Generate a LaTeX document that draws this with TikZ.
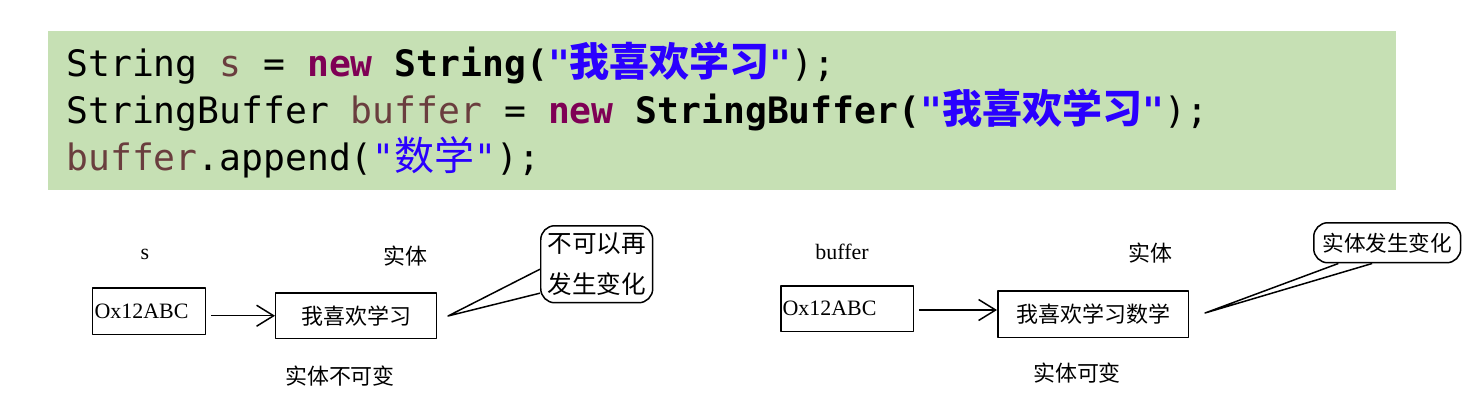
\documentclass[tikz,border=0pt]{standalone}
\usepackage{fontspec}
\setmainfont{Liberation Serif}
\setmonofont{DejaVu Sans Mono}
\newfontfamily\cjk{Noto Sans CJK SC}
\newfontfamily\cjkcode{Noto Sans CJK SC}[Scale=1.1]
\usetikzlibrary{arrows.meta}
\definecolor{codebg}{HTML}{C6E0B4}
\definecolor{kwcol}{HTML}{7F0055}
\definecolor{varcol}{HTML}{6A3E3E}
\definecolor{strcol}{HTML}{2A00FF}
\newcommand\dgfont{\fontsize{12.5}{15}\selectfont}
\newcommand\kw[1]{\textbf{\color{kwcol}#1}}
\newcommand\var[1]{{\color{varcol}#1}}
\tikzset{
  codeline/.style={anchor=base west, inner sep=0pt, font=\ttfamily\fontsize{20.7}{24}\selectfont},
  membox/.style={draw, line width=0.85pt, anchor=north west, inner sep=1pt, font=\dgfont},
  bubble/.style={draw, line width=0.85pt, rounded corners=8pt, anchor=north west, inner sep=1pt, align=center},
  lbl/.style={inner sep=0pt, font=\dgfont},
  ptr/.style={->, line width=0.85pt, shorten <=0.1cm},
  callout/.style={line width=0.85pt}
}
\begin{document}
\begin{tikzpicture}[x=0.02cm, y=-0.02cm, line join=round, >={Straight Barb[length=3.4mm,width=4.2mm]}]
\useasboundingbox (0,0) rectangle (1475,400);
% code block
\fill[codebg] (48,31) rectangle (1396,190);
\node[codeline] (line1) at (66,76) {String \var{s} = \kw{new} \textbf{String(}\textbf{\color{strcol}"{\cjkcode 我喜欢学习}"});};
\node[codeline] (line2) at (66,123) {StringBuffer \var{buffer} = \kw{new} \textbf{StringBuffer(}\textbf{\color{strcol}"{\cjkcode 我喜欢学习}"});};
\node[codeline] (line3) at (66,170) {\var{buffer}.append({\color{strcol}"{\cjkcode 数学}"});};
% String
\node[lbl] (sname) at (145,254) {s};
\node[lbl, font=\cjk\dgfont] (ent1) at (405,256) {实体};
\node[membox, minimum width=2.26cm, minimum height=0.94cm, text width=2.26cm-2pt, align=left] (b1) at (92,287) {Ox12ABC};
\node[membox, minimum width=3.22cm, minimum height=0.92cm, font=\cjk\dgfont] (b2) at (275,292) {我喜欢学习};
\node[lbl, font=\cjk\dgfont] (fixed) at (340,376) {实体不可变};
\node[bubble, minimum width=2.24cm, minimum height=1.54cm, font=\cjk\fontsize{14}{23.3}\selectfont] (call1) at (540,225) {不可以再\\发生变化};
\coordinate (tip1) at (448,316);
\draw[ptr] (b1.east |- b2.west) -- (b2.west);
\draw[callout] (call1.185) -- (tip1) -- (call1.207);
% StringBuffer
\node[lbl] (bname) at (842,252) {buffer};
\node[lbl, font=\cjk\dgfont] (ent2) at (1150,253) {实体};
\node[membox, minimum width=2.66cm, minimum height=0.92cm, text width=2.66cm-2pt, align=left] (b3) at (780,285) {Ox12ABC};
\node[membox, minimum width=3.82cm, minimum height=0.94cm, font=\cjk\dgfont] (b4) at (997,290) {我喜欢学习数学};
\node[lbl, font=\cjk\dgfont] (mutable) at (1077,373) {实体可变};
\node[bubble, minimum width=2.94cm, minimum height=0.8cm, font=\cjk\fontsize{12.3}{15}\selectfont] (call2) at (1313,222) {实体发生变化};
\coordinate (tip2) at (1205,313);
\draw[ptr] (b3.east |- 0,310) -- (b4.west |- 0,310);
\draw[callout] (call2.234) -- (tip2) -- (call2.203);
\end{tikzpicture}
\end{document}
